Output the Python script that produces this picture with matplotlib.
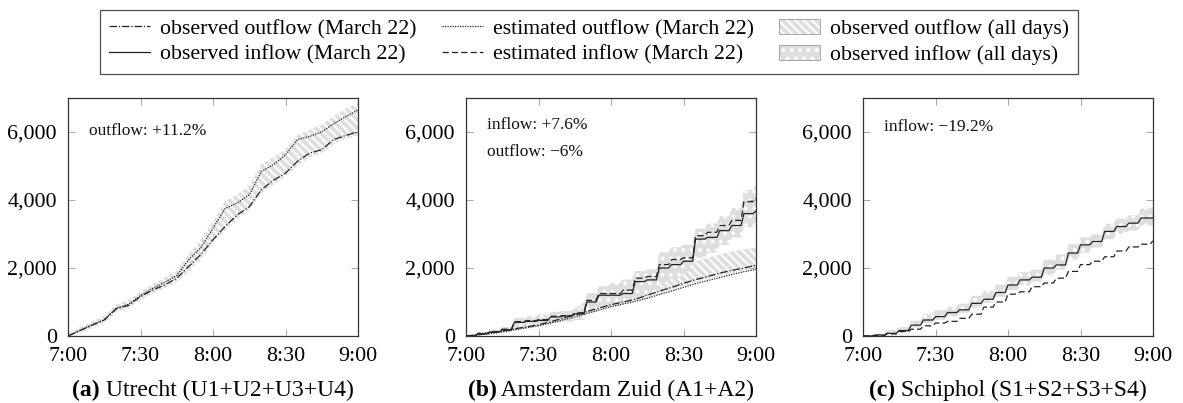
import matplotlib
matplotlib.use('Agg')
import matplotlib.pyplot as plt
from matplotlib.patches import Patch
from matplotlib.lines import Line2D
from matplotlib.ticker import FuncFormatter, FixedLocator
from matplotlib.offsetbox import TextArea, HPacker, AnchoredOffsetbox
from matplotlib.legend_handler import HandlerTuple

plt.rcParams['font.family'] = ['Liberation Serif', 'DejaVu Serif']
plt.rcParams['hatch.linewidth'] = 1.5
plt.rcParams['hatch.color'] = 'white'

# minutes after 7:00
minutes = [0, 5, 10, 15, 20, 25, 30, 35, 40, 45, 50, 55, 60,
           65, 70, 75, 80, 85, 90, 95, 100, 105, 110, 115, 120]
xtick_pos = [0, 30, 60, 90, 120]
xtick_labels = ['7:00', '7:30', '8:00', '8:30', '9:00']
ytick_pos = [0, 2000, 4000, 6000]

# (a) Utrecht
a_obs_out = [0, 160, 320, 470, 800, 900, 1160, 1350, 1500, 1700, 2050, 2400, 2830,
             3220, 3560, 3800, 4300, 4580, 4790, 5140, 5380, 5480, 5780, 5900, 6000]
a_est_out = [0, 170, 330, 480, 820, 930, 1190, 1400, 1580, 1780, 2250, 2600, 3170,
             3750, 3910, 4150, 4840, 5040, 5330, 5780, 5870, 6000, 6250, 6450, 6650]
a_out_lo = [0, 90, 230, 380, 700, 820, 1050, 1250, 1400, 1600, 1900, 2250, 2750,
            3100, 3450, 3700, 4200, 4450, 4700, 5000, 5250, 5380, 5650, 5800, 5900]
a_out_hi = [60, 260, 420, 590, 930, 1060, 1300, 1530, 1720, 1920, 2420, 2820, 3370,
            3970, 4160, 4420, 5060, 5260, 5480, 5920, 6070, 6220, 6470, 6680, 6870]

# (b) Amsterdam Zuid
b_obs_in = [0, 70, 120, 180, 400, 430, 460, 560, 590, 650, 1000, 1200, 1200,
            1250, 1600, 1650, 2000, 2100, 2200, 2850, 2900, 3100, 3250, 3600, 3680]
b_est_in = [0, 80, 130, 200, 420, 450, 480, 580, 600, 680, 1050, 1250, 1250,
            1350, 1700, 1750, 2100, 2250, 2300, 2950, 3050, 3250, 3400, 3950, 4050]
b_in_lo = [0, 30, 60, 100, 250, 300, 350, 400, 420, 470, 700, 850, 880,
           1050, 1150, 1250, 1550, 1700, 1900, 2300, 2450, 2680, 2900, 3200, 3350]
b_in_hi = [30, 130, 190, 270, 530, 580, 630, 710, 740, 810, 1260, 1460, 1560,
           1660, 1910, 1960, 2460, 2610, 2690, 3160, 3310, 3520, 3760, 4300, 4450]
b_obs_out = [0, 40, 90, 150, 210, 270, 330, 420, 520, 620, 720, 820, 920,
             1000, 1080, 1200, 1320, 1430, 1550, 1660, 1750, 1850, 1930, 2000, 2080]
b_est_out = [0, 30, 70, 120, 180, 240, 300, 380, 470, 560, 660, 760, 860,
             940, 1020, 1110, 1220, 1320, 1430, 1540, 1630, 1720, 1810, 1890, 1960]
b_out_lo = [0, 20, 60, 110, 170, 230, 290, 370, 460, 560, 660, 760, 860,
            940, 1020, 1130, 1240, 1350, 1470, 1580, 1670, 1770, 1850, 1920, 2000]
b_out_hi = [20, 60, 110, 170, 240, 310, 380, 480, 620, 800, 1050, 1200, 1350,
            1480, 1600, 1720, 1820, 1950, 2080, 2200, 2300, 2400, 2480, 2550, 2600]

# (c) Schiphol
c_obs_in = [0, 30, 80, 160, 320, 470, 570, 690, 770, 960, 1080, 1280, 1500,
            1650, 1730, 2000, 2090, 2440, 2680, 2780, 3075, 3220, 3320, 3470, 3470]
c_est_in = [0, 10, 60, 130, 200, 300, 380, 430, 520, 640, 850, 1000, 1230,
            1300, 1450, 1560, 1700, 1900, 2100, 2200, 2330, 2500, 2620, 2700, 2800]
c_in_lo = [0, 0, 60, 120, 250, 380, 480, 580, 680, 830, 970, 1150, 1350,
           1500, 1600, 1800, 1950, 2250, 2450, 2600, 2850, 3000, 3100, 3250, 3250]
c_in_hi = [30, 80, 180, 260, 450, 640, 760, 860, 950, 1180, 1320, 1520, 1740,
           1880, 1950, 2250, 2400, 2700, 2900, 3000, 3300, 3450, 3550, 3750, 3800]

LINE_C = '#222222'
BAND_C = '#dedede'
LW = 0.9
OBS_OUT_LS = (0, (6, 1.5, 1, 1.5))
EST_OUT_LS = (0, (1, 1))
EST_IN_LS = (0, (5, 2.5))
OUT_HATCH = '\\\\\\\\'
IN_HATCH = '..'


def stairs(t, v, rise=1.2):
    xs, ys = [], []
    for i in range(len(t)):
        xs.append(t[i]); ys.append(v[i])
        if i < len(t) - 1:
            xs.append(t[i + 1] - rise); ys.append(v[i])
    return xs, ys


def band(ax, t, lo, hi, hatch, step=False):
    if step:
        xs, l = stairs(t, lo)
        _, h = stairs(t, hi)
    else:
        xs, l, h = t, lo, hi
    ax.fill_between(xs, l, h, facecolor=BAND_C, edgecolor='white',
                    hatch=hatch, linewidth=0, zorder=1)


def line(ax, t, v, ls, step=False):
    if step:
        xs, ys = stairs(t, v)
    else:
        xs, ys = t, v
    ax.plot(xs, ys, color=LINE_C, lw=LW, linestyle=ls, zorder=3)


fig = plt.figure(figsize=(11.83, 4.03), dpi=100)
lefts = [68 / 1183, 466 / 1183, 863 / 1183]
W = 290 / 1183
B = 1 - 336 / 403
H = 238 / 403
axes = [fig.add_axes([l, B, W, H]) for l in lefts]

ax = axes[0]
band(ax, minutes, a_out_lo, a_out_hi, OUT_HATCH)
line(ax, minutes, a_obs_out, OBS_OUT_LS)
line(ax, minutes, a_est_out, EST_OUT_LS)

ax = axes[1]
band(ax, minutes, b_out_lo, b_out_hi, OUT_HATCH)
band(ax, minutes, b_in_lo, b_in_hi, IN_HATCH, step=True)
line(ax, minutes, b_obs_out, OBS_OUT_LS)
line(ax, minutes, b_est_out, EST_OUT_LS)
line(ax, minutes, b_obs_in, '-', step=True)
line(ax, minutes, b_est_in, EST_IN_LS, step=True)

ax = axes[2]
band(ax, minutes, c_in_lo, c_in_hi, IN_HATCH, step=True)
line(ax, minutes, c_obs_in, '-', step=True)
line(ax, minutes, c_est_in, EST_IN_LS, step=True)

captions = [('(a)', ' Utrecht (U1+U2+U3+U4)'),
            ('(b)', ' Amsterdam Zuid (A1+A2)'),
            ('(c)', ' Schiphol (S1+S2+S3+S4)')]
notes = [[('outflow: +11.2%', 0.861)],
         [('inflow: +7.6%', 0.887), ('outflow: \u22126%', 0.774)],
         [('inflow: \u221219.2%', 0.879)]]

for ax, cap, nt in zip(axes, captions, notes):
    ax.set_xlim(0, 120)
    ax.set_ylim(0, 7000)
    ax.xaxis.set_major_locator(FixedLocator(xtick_pos))
    ax.set_xticklabels(xtick_labels)
    ax.yaxis.set_major_locator(FixedLocator(ytick_pos))
    ax.yaxis.set_major_formatter(FuncFormatter(lambda v, p: f'{int(v):,}'))
    ax.tick_params(direction='in', top=True, right=True, length=5, width=0.6,
                   color='#999999', labelsize=15.8)
    ax.tick_params(axis='x', pad=8)
    ax.tick_params(axis='y', pad=8)
    for sp in ax.spines.values():
        sp.set_color('#333333'); sp.set_linewidth(0.9)
    for txt, y in nt:
        ax.text(0.072, y, txt, transform=ax.transAxes, fontsize=12.5,
                va='center', ha='left', color='#111111')
    pack = HPacker(children=[TextArea(cap[0], textprops=dict(fontsize=17, fontweight='bold')),
                             TextArea(cap[1], textprops=dict(fontsize=17))],
                   align='baseline', pad=0, sep=0)
    ab = AnchoredOffsetbox(loc='upper center', child=pack, pad=0, borderpad=0,
                           frameon=False, bbox_to_anchor=(0.5, -0.185),
                           bbox_transform=ax.transAxes)
    ax.add_artist(ab)

border = Patch(facecolor='none', edgecolor='#999999', linewidth=0.6)
handles = [
    Line2D([], [], color=LINE_C, lw=LW, linestyle=OBS_OUT_LS),
    Line2D([], [], color=LINE_C, lw=LW, linestyle='-'),
    Line2D([], [], color=LINE_C, lw=LW, linestyle=EST_OUT_LS),
    Line2D([], [], color=LINE_C, lw=LW, linestyle=EST_IN_LS),
    (Patch(facecolor=BAND_C, edgecolor='white', hatch=OUT_HATCH, linewidth=0), border),
    (Patch(facecolor=BAND_C, edgecolor='white', hatch=IN_HATCH, linewidth=0), border),
]
labels = ['observed outflow (March 22)', 'observed inflow (March 22)',
          'estimated outflow (March 22)', 'estimated inflow (March 22)',
          'observed outflow (all days)', 'observed inflow (all days)']
leg = fig.legend(handles, labels, ncol=3, loc='upper center',
                 bbox_to_anchor=(0.4979, 0.976), fontsize=15.7, frameon=True,
                 fancybox=False, edgecolor='#222222', handlelength=1.9,
                 handletextpad=0.45, columnspacing=1.15, borderpad=0.42,
                 labelspacing=0.25, borderaxespad=0,
                 handler_map={tuple: HandlerTuple(ndivide=1, pad=0)})
leg.get_frame().set_linewidth(0.9)

fig.savefig('out.png', dpi=100)
